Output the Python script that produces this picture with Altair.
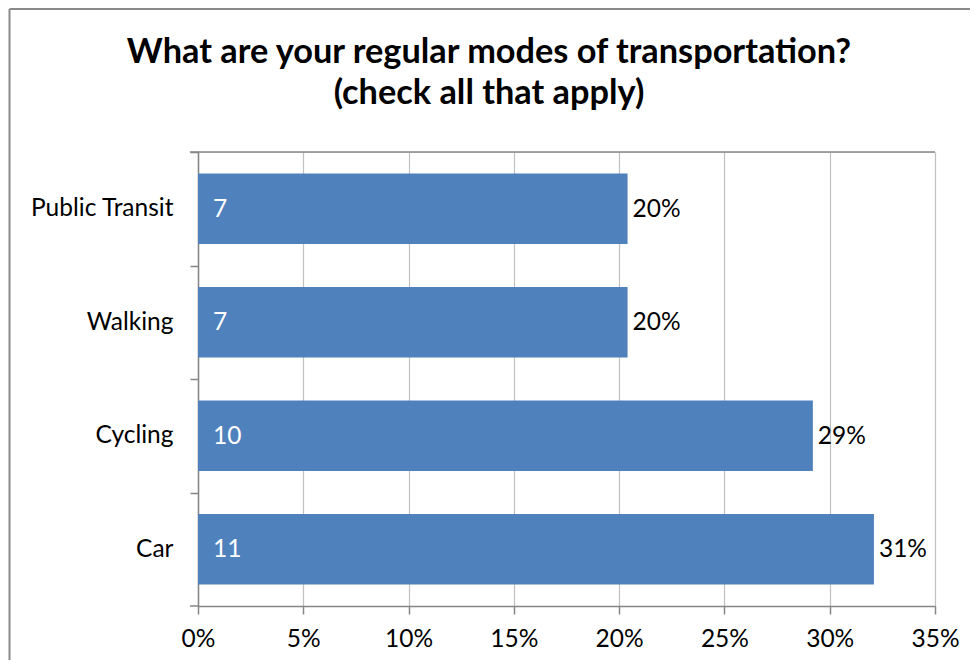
import altair as alt
import pandas as pd

# ---- data ----
categories = ["Public Transit", "Walking", "Cycling", "Car"]
percent = [20.4, 20.4, 29.2, 32.1]          # bar length in % (as drawn)
counts = [7, 7, 10, 11]                      # labels inside bars
pct_labels = ["20%", "20%", "29%", "31%"]    # labels outside bars
x_ticks = [0, 5, 10, 15, 20, 25, 30, 35]
title_lines = ["What are your regular modes of transportation?", "(check all that apply)"]

df = pd.DataFrame({"mode": categories, "pct": percent, "count": counts, "label": pct_labels})

W, H = 737, 454
FONT = "Lato"
BLUE = "#4f81bd"
AXIS = "#868686"
GRID = "#c0c0c0"
STEP = H / len(categories)
FS = 24.5
TFS = 34.3

y_enc = alt.Y(
    "mode:N",
    sort=categories,
    scale=alt.Scale(paddingInner=0.378, paddingOuter=0.189),
    axis=alt.Axis(
        title=None,
        tickOffset=-STEP / 2,
        labelOffset=STEP / 2,
        tickSize=8,
        tickColor=AXIS,
        domainColor=AXIS,
        domainWidth=1.5,
        tickWidth=1.5,
        labelFont=FONT,
        labelFontSize=FS,
        labelColor="black",
        labelPadding=17,
        labelBaseline="middle",
        grid=False,
    ),
)

x_enc = alt.X(
    "pct:Q",
    scale=alt.Scale(domain=[0, 35], nice=False),
    axis=alt.Axis(
        title=None,
        values=x_ticks,
        labelExpr="datum.value + '%'",
        labelFlush=False,
        grid=True,
        gridColor=GRID,
        gridWidth=1.2,
        tickSize=8,
        tickColor=AXIS,
        tickWidth=1.5,
        domainColor=AXIS,
        domainWidth=1.5,
        labelFont=FONT,
        labelFontSize=FS,
        labelColor="black",
        labelPadding=13,
    ),
)

base = alt.Chart(df)

bars = base.mark_bar(color=BLUE).encode(x=x_enc, y=y_enc)

inside = base.mark_text(
    align="left", baseline="middle", dx=15, dy=1, color="white", font=FONT, fontSize=FS
).encode(x=alt.datum(0), y=alt.Y("mode:N", sort=categories), text="count:Q")

outside = base.mark_text(
    align="left", baseline="middle", dx=5, dy=1, color="black", font=FONT, fontSize=FS
).encode(x="pct:Q", y=alt.Y("mode:N", sort=categories), text="label:N")

one = alt.Data(values=[{}])

top_line = alt.Chart(one).mark_rule(color=AXIS, strokeWidth=1.5).encode(
    x=alt.value(-8), x2=alt.value(W), y=alt.value(0)
)
bottom_tick = alt.Chart(one).mark_rule(color=AXIS, strokeWidth=1.5).encode(
    x=alt.value(-8), x2=alt.value(0), y=alt.value(H)
)
border_left = alt.Chart(one).mark_rule(color="#8a8a8a", strokeWidth=2).encode(
    x=alt.value(-188.5), y=alt.value(-143), y2=alt.value(H + 60)
)
border_top = alt.Chart(one).mark_rule(color="#8a8a8a", strokeWidth=2).encode(
    x=alt.value(-188.5), x2=alt.value(W + 50), y=alt.value(-143)
)

title1 = alt.Chart(one).mark_text(
    align="center", baseline="alphabetic", font=FONT, fontSize=TFS, fontWeight="bold", color="black"
).encode(x=alt.value(291), y=alt.value(-89), text=alt.value(title_lines[0]))
title2 = alt.Chart(one).mark_text(
    align="center", baseline="alphabetic", font=FONT, fontSize=TFS, fontWeight="bold", color="black"
).encode(x=alt.value(291), y=alt.value(-48), text=alt.value(title_lines[1]))

chart = (
    alt.layer(bars, inside, outside, top_line, bottom_tick, border_left, border_top, title1, title2)
    .properties(
        width=W,
        height=H,
        autosize=alt.AutoSizeParams(type="none"),
        padding={"left": 190, "top": 144, "right": 35, "bottom": 54},
    )
    .configure_view(stroke=None)
    .configure(background="white")
)

chart.save("out.html", embed_options={"renderer": "svg", "actions": False})
